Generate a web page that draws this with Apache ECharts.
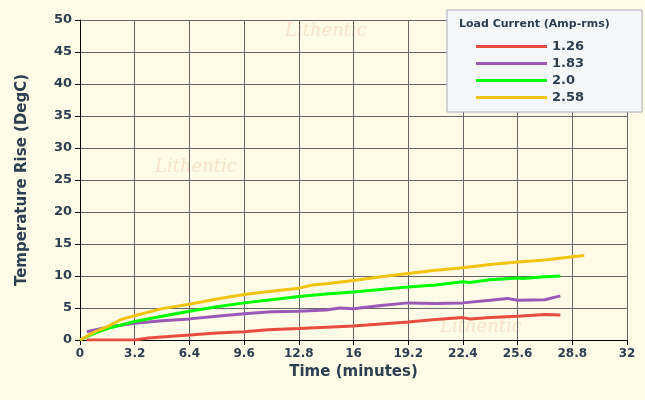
<!DOCTYPE html>
<html><head><meta charset="utf-8">
<script src="https://cdn.jsdelivr.net/npm/echarts@6/dist/echarts.min.js"></script>
<style>html,body{margin:0;padding:0;background:#fdfbe6}#c{width:645px;height:400px}</style>
</head><body><div id="c"></div>
<script>
const seriesNames = ['1.26','1.83','2.0','2.58'];
const colors = ['#e74c3c','#9b59b6','#00ff00','#f1c40f'];
const s126 = [[0.4,0],[3.2,0],[4,0.3],[6.4,0.8],[8,1.1],[9.6,1.3],[11,1.6],[12.8,1.8],[14.4,2.0],[16,2.2],[17.6,2.5],[19.2,2.8],[20.8,3.2],[22.4,3.5],[22.8,3.3],[24,3.5],[25.6,3.7],[27.2,4.0],[28.1,3.9]];
const s183 = [[0.4,1.3],[1.6,2.0],[3.2,2.6],[4.8,3.0],[6.4,3.3],[8,3.7],[9.6,4.1],[11.2,4.4],[12.8,4.5],[14.4,4.7],[15.2,5.0],[16,4.9],[17.6,5.4],[19.2,5.8],[20.8,5.7],[22.4,5.8],[24,6.2],[25,6.5],[25.6,6.2],[27.2,6.3],[28.1,6.9]];
const s20 = [[0,0],[0.8,1.0],[1.6,1.8],[3.2,2.9],[4.8,3.7],[6.4,4.5],[8,5.2],[9.6,5.8],[11.2,6.3],[12.8,6.8],[14.4,7.2],[16,7.5],[17.6,7.9],[19.2,8.3],[20.8,8.6],[22.4,9.1],[22.8,9.0],[24,9.4],[25.6,9.7],[25.9,9.6],[27.2,9.9],[28.1,10.0]];
const s258 = [[0,0],[0.8,1.2],[1.6,2.1],[2.4,3.2],[3.2,3.8],[4.8,4.9],[6.4,5.6],[8,6.4],[9.6,7.1],[11.2,7.6],[12.8,8.1],[13.6,8.6],[14.4,8.8],[16,9.3],[17.6,9.9],[19.2,10.4],[20.8,10.9],[22.4,11.3],[24,11.8],[25.6,12.2],[27.2,12.5],[28.8,13.0],[29.5,13.2]];
const allData = [s126,s183,s20,s258];
const chart = echarts.init(document.getElementById('c'));
const txt = '#2c3e50';
const wm = (l,t)=>({type:'text',left:l,top:t,style:{text:'Lithentic',fontSize:18,fontStyle:'italic',fontFamily:'DejaVu Serif',fill:'rgba(240,180,150,0.35)'}});
chart.setOption({
  backgroundColor:'#fdfbe6',
  animation:false,
  graphic:[wm(285,22),wm(155,158),wm(440,318)],
  grid:{left:80,right:18,top:20,bottom:60},
  legend:{left:447,top:10,orient:'vertical',data:seriesNames,itemWidth:71,itemHeight:3,itemGap:4,
    backgroundColor:'#f5f6f8',borderColor:'#aab',borderWidth:1,padding:[30,58,8,29],
    textStyle:{color:txt,fontSize:13,fontWeight:'bold',fontFamily:'DejaVu Sans'},icon:'rect'},
  title:{text:'Load Current (Amp-rms)',left:454,top:14,textStyle:{color:txt,fontSize:11,fontWeight:'bold',fontFamily:'DejaVu Sans'}},
  xAxis:{type:'value',min:0,max:32,interval:3.2,name:'Time (minutes)',nameLocation:'middle',nameGap:22,
    nameTextStyle:{color:txt,fontSize:15,fontWeight:'bold',fontFamily:'DejaVu Sans'},
    axisLine:{onZero:false,lineStyle:{color:'#000'}},axisTick:{show:true,length:5,lineStyle:{color:'#000'}},
    axisLabel:{color:txt,fontSize:12,fontWeight:'bold',fontFamily:'DejaVu Sans'},
    splitLine:{lineStyle:{color:'#666',width:1}}},
  yAxis:{type:'value',min:0,max:50,interval:5,name:'Temperature Rise (DegC)',nameLocation:'middle',nameGap:50,
    nameTextStyle:{color:txt,fontSize:15,fontWeight:'bold',fontFamily:'DejaVu Sans'},
    axisLine:{show:true,lineStyle:{color:'#000'}},axisTick:{show:true,length:5,lineStyle:{color:'#000'}},
    axisLabel:{color:txt,fontSize:13,fontWeight:'bold',fontFamily:'DejaVu Sans'},
    splitLine:{lineStyle:{color:'#666',width:1}}},
  series: seriesNames.map((n,i)=>({name:n,type:'line',data:allData[i],showSymbol:false,
    lineStyle:{color:colors[i],width:3},itemStyle:{color:colors[i]}}))
});
</script></body></html>
